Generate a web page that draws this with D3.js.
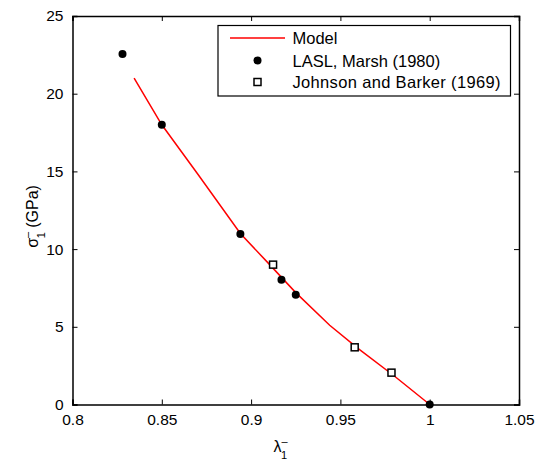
<!DOCTYPE html>
<html>
<head>
<meta charset="utf-8">
<script src="https://cdn.jsdelivr.net/npm/d3@7"></script>
<style>
  body { margin: 0; background: #fff; }
  text { font-family: "Liberation Sans", Arial, sans-serif; }
</style>
</head>
<body>
<div id="chart"></div>
<script>
// data
var modelX = [0.8345, 0.85, 0.87, 0.894, 0.91, 0.925, 0.944, 0.96, 0.98, 1.0];
var modelY = [21.0, 18.0, 14.85, 11.0, 9.05, 7.2, 5.1, 3.6, 1.85, 0];
var laslX = [0.828, 0.85, 0.894, 0.917, 0.925, 1.0];
var laslY = [22.55, 18.0, 10.97, 8.02, 7.07, 0];
var jbX = [0.9123, 0.958, 0.9786];
var jbY = [9.0, 3.68, 2.05];
var xTicks = [0.8, 0.85, 0.9, 0.95, 1, 1.05];
var yTicks = [0, 5, 10, 15, 20, 25];
var legendLabels = ["Model", "LASL, Marsh (1980)", "Johnson and Barker (1969)"];

var W = 537, H = 464;
var margin = {left: 72.5, top: 16, right: 18, bottom: 59.5};
var w = W - margin.left - margin.right, h = H - margin.top - margin.bottom;

var svg = d3.select("#chart").append("svg").attr("width", W).attr("height", H);
var g = svg.append("g").attr("transform", "translate(" + margin.left + "," + margin.top + ")");

var x = d3.scaleLinear().domain([0.8, 1.05]).range([0, w]);
var y = d3.scaleLinear().domain([0, 25]).range([h, 0]);

function fmt(d) { return d3.format("")(+d.toFixed(2)); }

// axes, ticks inward, MATLAB style box
g.append("g").attr("transform", "translate(0," + h + ")")
  .call(d3.axisBottom(x).tickValues(xTicks).tickSize(-5).tickPadding(9).tickFormat(fmt));
g.append("g")
  .call(d3.axisTop(x).tickValues(xTicks).tickSize(-5).tickFormat(""));
g.append("g")
  .call(d3.axisLeft(y).tickValues(yTicks).tickSize(-5).tickPadding(9).tickFormat(fmt));
g.append("g").attr("transform", "translate(" + w + ",0)")
  .call(d3.axisRight(y).tickValues(yTicks).tickSize(-5).tickFormat(""));

g.selectAll(".domain").attr("stroke", "#000").attr("stroke-width", 1.5);
g.selectAll(".tick line").attr("stroke", "#000");
g.selectAll(".tick text").attr("font-size", 15.5).attr("fill", "#000")
  .attr("font-family", "Liberation Sans, Arial, sans-serif");

// model curve
var line = d3.line().x(function(d) { return x(d[0]); }).y(function(d) { return y(d[1]); });
g.append("path")
  .datum(d3.zip(modelX, modelY))
  .attr("d", line)
  .attr("fill", "none")
  .attr("stroke", "#ff0000")
  .attr("stroke-width", 1.5);

// LASL points
g.selectAll(".lasl").data(d3.zip(laslX, laslY)).enter()
  .append("circle")
  .attr("class", "lasl")
  .attr("cx", function(d) { return x(d[0]); })
  .attr("cy", function(d) { return y(d[1]); })
  .attr("r", 4)
  .attr("fill", "#000");

// Johnson and Barker points
var s = 7;
g.selectAll(".jb").data(d3.zip(jbX, jbY)).enter()
  .append("rect")
  .attr("class", "jb")
  .attr("x", function(d) { return x(d[0]) - s / 2; })
  .attr("y", function(d) { return y(d[1]) - s / 2; })
  .attr("width", s).attr("height", s)
  .attr("fill", "#fff")
  .attr("stroke", "#000")
  .attr("stroke-width", 1.5);

// legend
var leg = svg.append("g").attr("transform", "translate(218,25.5)");
leg.append("rect").attr("width", 292.5).attr("height", 70.5)
  .attr("fill", "#fff").attr("stroke", "#000").attr("stroke-width", 1.2);
var rowY = [12.5, 35, 56.5];
leg.append("line").attr("x1", 12).attr("x2", 67).attr("y1", rowY[0]).attr("y2", rowY[0])
  .attr("stroke", "#ff0000").attr("stroke-width", 1.5);
leg.append("circle").attr("cx", 39.5).attr("cy", rowY[1]).attr("r", 4).attr("fill", "#000");
leg.append("rect").attr("x", 39.5 - s / 2).attr("y", rowY[2] - s / 2).attr("width", s).attr("height", s)
  .attr("fill", "#fff").attr("stroke", "#000").attr("stroke-width", 1.5);
leg.selectAll(".lt").data(legendLabels).enter()
  .append("text")
  .attr("x", 74.5)
  .attr("y", function(d, i) { return rowY[i] + 6; })
  .attr("font-size", 16.5)
  .attr("textLength", function(d, i) { return i === 2 ? 208 : null; })
  .text(function(d) { return d; });

// axis labels
var xl = svg.append("text")
  .attr("x", margin.left + x(0.9125)).attr("y", 452)
  .attr("font-size", 16);
xl.append("tspan").text("\u03bb");
xl.append("tspan").attr("font-size", 11).attr("dy", -7).text("\u2013");
xl.append("tspan").attr("font-size", 11).attr("dx", -6.5).attr("dy", 14).text("1");

var yl = svg.append("text")
  .attr("transform", "translate(38," + (margin.top + y(12.1)) + ") rotate(-90)")
  .attr("text-anchor", "middle")
  .attr("font-size", 16);
yl.append("tspan").text("\u03c3");
yl.append("tspan").attr("font-size", 11).attr("dy", -7).text("\u2013");
yl.append("tspan").attr("font-size", 11).attr("dx", -6.5).attr("dy", 14).text("1");
yl.append("tspan").attr("dy", -7).text(" (GPa)");
</script>
</body>
</html>
